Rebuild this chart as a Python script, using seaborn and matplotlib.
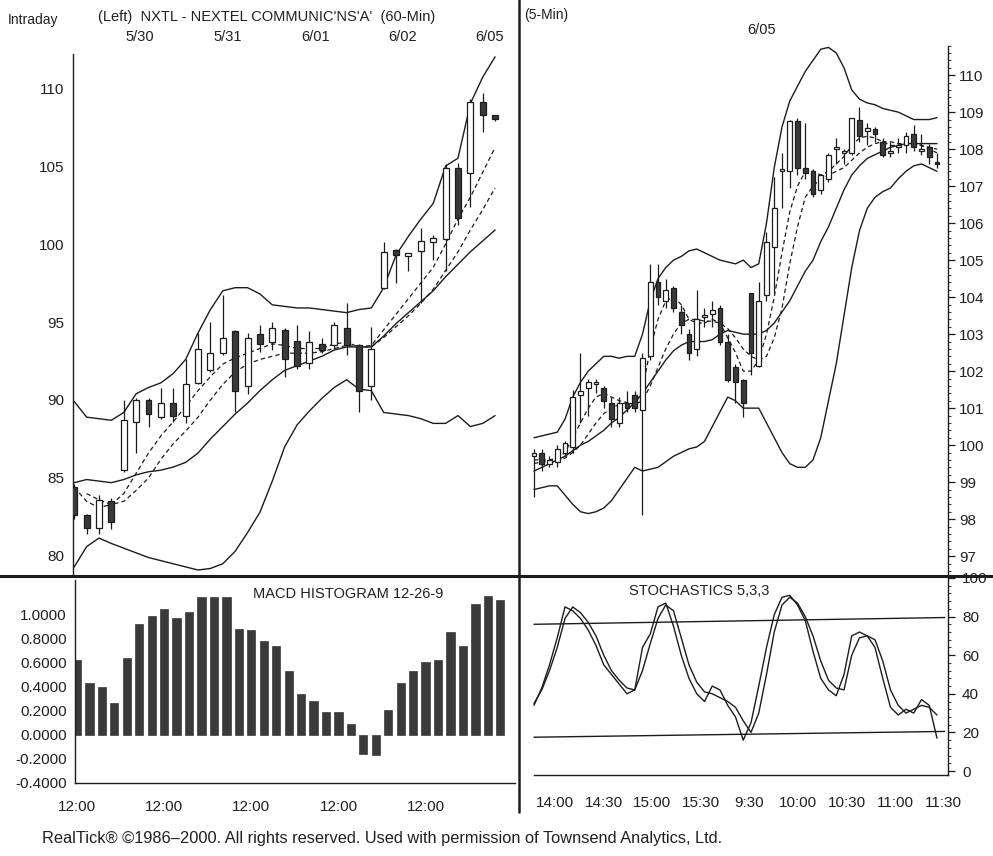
import numpy as np
import pandas as pd
import matplotlib
matplotlib.use("Agg")
import matplotlib.pyplot as plt
import seaborn as sns
from matplotlib.ticker import MultipleLocator, FixedLocator
from matplotlib.lines import Line2D

# ---------------- data ----------------
# Left panel: NXTL 60-min candles (5/30 - 6/05)
l_open  = [84.4, 82.6, 81.8, 83.5, 85.5, 88.6, 90.0, 88.9, 89.8, 89.0, 91.1, 91.9, 93.0, 94.4, 90.9, 94.2, 93.7, 94.5,
           93.8, 92.4, 93.6, 93.5, 94.6, 93.5, 90.9, 97.2, 99.6, 99.2, 99.55, 100.1, 100.3, 104.9, 104.55, 109.1, 108.3]
l_high  = [84.6, 82.7, 83.9, 83.7, 90.0, 90.1, 90.1, 90.8, 90.8, 92.6, 94.3, 95.0, 96.7, 94.5, 94.3, 94.8, 95.0, 94.6,
           94.8, 94.4, 94.0, 95.0, 96.2, 93.6, 94.7, 100.1, 99.7, 99.4, 101.0, 100.6, 105.1, 105.2, 109.3, 109.7, 108.3]
l_low   = [82.4, 81.4, 81.4, 81.7, 85.4, 86.6, 88.3, 88.8, 88.6, 88.5, 91.0, 91.8, 92.9, 89.2, 90.4, 93.1, 93.2, 91.5,
           92.0, 92.0, 93.0, 93.3, 92.9, 89.2, 90.0, 97.1, 97.5, 98.3, 96.2, 99.0, 98.3, 101.2, 102.4, 107.2, 107.9]
l_close = [82.6, 81.8, 83.6, 82.2, 88.7, 90.0, 89.1, 89.8, 89.0, 91.0, 93.3, 93.0, 94.0, 90.6, 94.0, 93.6, 94.6, 92.6,
           92.2, 93.7, 93.2, 94.8, 93.5, 90.6, 93.3, 99.5, 99.3, 99.4, 100.2, 100.4, 104.9, 101.7, 109.1, 108.3, 108.0]
l_upper = [89.9, 88.9, 88.8, 88.7, 89.2, 90.4, 90.8, 91.1, 91.7, 92.6, 94.3, 95.8, 97.0, 97.2, 97.2, 96.8, 96.1, 96.0,
           95.9, 95.9, 95.8, 95.7, 95.6, 95.8, 95.9, 97.2, 99.3, 100.5, 101.6, 102.6, 105.0, 105.5, 109.0, 110.7, 112.0]
l_mid   = [84.7, 84.9, 84.8, 84.7, 84.9, 85.2, 85.4, 85.5, 85.7, 86.0, 86.6, 87.5, 88.3, 89.1, 89.8, 90.6, 91.3, 91.9,
           92.2, 92.5, 92.8, 93.2, 93.4, 93.4, 93.4, 94.1, 94.9, 95.6, 96.3, 97.0, 97.9, 98.7, 99.5, 100.2, 100.9]
l_lower = [79.3, 80.6, 81.15, 80.8, 80.5, 80.2, 79.9, 79.7, 79.5, 79.3, 79.1, 79.2, 79.5, 80.3, 81.5, 82.8, 84.8, 87.0,
           88.4, 89.3, 90.1, 90.8, 91.3, 90.7, 90.6, 89.2, 89.1, 89.0, 88.8, 88.5, 88.5, 89.0, 88.3, 88.5, 89.0]
l_ma_fast = [84.4, 83.5, 83.1, 83.3, 84.0, 85.3, 86.6, 87.7, 88.6, 89.6, 90.6, 91.5, 92.3, 92.7, 93.0, 93.3, 93.6, 93.5,
             93.3, 93.3, 93.3, 93.6, 93.7, 93.4, 93.5, 94.5, 95.5, 96.5, 97.5, 98.5, 100.0, 101.6, 103.0, 104.6, 106.2]
l_ma_slow = [np.nan, 84.0, 83.6, 83.3, 83.5, 84.2, 85.0, 86.2, 87.2, 88.0, 88.9, 90.0, 91.0, 91.8, 92.3, 92.6, 92.8,
             93.0, 93.0, 93.0, 93.1, 93.3, 93.5, 93.4, 93.4, 94.0, 94.7, 95.4, 96.2, 97.1, 98.3, 99.5, 100.9, 102.2, 103.6]
macd_hist = [0.62, 0.43, 0.40, 0.27, 0.64, 0.92, 0.99, 1.05, 0.97, 1.02, 1.15, 1.15, 1.15, 0.88, 0.87, 0.78, 0.74, 0.53,
             0.34, 0.28, 0.19, 0.19, 0.09, -0.16, -0.17, 0.21, 0.43, 0.53, 0.61, 0.62, 0.86, 0.74, 1.09, 1.16, 1.12]
left_day_labels = ["5/30", "5/31", "6/01", "6/02", "6/05"]
macd_tick_labels = ["12:00", "12:00", "12:00", "12:00", "12:00"]

# Right panel: 5-min candles (6/02 afternoon - 6/05 morning)
r_open  = [99.7, 99.8, 99.5, 99.55, 99.8, 99.95, 101.35, 101.55, 101.65, 101.55, 101.15, 100.6, 101.15, 101.35, 100.95,
           102.4, 104.4, 103.9, 104.25, 103.6, 103.0, 102.6, 103.45, 103.55, 103.7, 102.8, 102.1, 101.75, 104.1, 102.15,
           104.05, 105.35, 107.4, 107.4, 108.75, 107.5, 107.4, 106.9, 107.2, 108.0, 107.9, 107.9, 108.8, 108.5, 108.55,
           108.2, 107.9, 108.05, 108.1, 108.4, 107.95, 108.05, 107.65]
r_high  = [99.9, 99.9, 99.7, 100.0, 100.1, 101.5, 102.5, 101.8, 101.8, 101.6, 101.3, 101.3, 101.45, 101.45, 102.5,
           104.9, 104.9, 104.5, 104.3, 103.8, 103.15, 104.2, 103.7, 103.9, 103.8, 103.0, 102.2, 101.8, 104.1, 104.4,
           105.75, 107.25, 107.9, 108.8, 108.85, 108.7, 107.45, 107.3, 107.9, 108.3, 108.0, 108.85, 109.15, 108.7, 108.6,
           108.3, 108.2, 108.3, 108.45, 108.65, 108.4, 108.15, 107.9]
r_low   = [98.6, 99.3, 99.4, 99.4, 99.7, 99.8, 100.6, 100.8, 101.4, 101.0, 100.5, 100.5, 100.9, 100.9, 98.1,
           102.3, 103.8, 103.7, 103.6, 103.0, 102.3, 102.4, 103.2, 103.2, 102.7, 101.7, 101.15, 100.75, 101.9, 102.1,
           103.9, 104.1, 106.4, 106.95, 107.3, 107.2, 106.7, 106.8, 107.1, 107.6, 107.6, 107.85, 108.2, 108.1, 108.2,
           107.8, 107.8, 107.9, 107.9, 107.95, 107.85, 107.6, 107.5]
r_close = [99.8, 99.5, 99.6, 99.9, 100.05, 101.3, 101.45, 101.7, 101.7, 101.2, 100.7, 101.15, 101.0, 101.0, 102.35,
           104.4, 104.0, 104.2, 103.7, 103.25, 102.5, 103.4, 103.5, 103.65, 102.8, 101.75, 101.7, 101.15, 102.5, 103.9,
           105.5, 106.4, 107.45, 108.75, 107.5, 107.35, 106.8, 107.3, 107.85, 108.05, 107.95, 108.85, 108.35, 108.55,
           108.4, 107.85, 107.95, 108.1, 108.35, 108.05, 108.0, 107.8, 107.6]
r_upper = [100.2, 100.25, 100.3, 100.35, 100.7, 101.3, 101.7, 102.0, 102.2, 102.4, 102.4, 102.35, 102.4, 102.4, 103.0,
           103.9, 104.5, 104.8, 105.0, 105.1, 105.25, 105.3, 105.2, 105.1, 105.0, 104.95, 104.9, 105.0, 104.8, 104.9,
           106.0, 107.5, 108.6, 109.3, 109.7, 110.1, 110.4, 110.7, 110.75, 110.6, 110.2, 109.6, 109.35, 109.25, 109.2,
           109.1, 109.05, 109.0, 108.9, 108.8, 108.8, 108.8, 108.85]
r_mid   = [99.3, 99.4, 99.5, 99.6, 99.7, 99.85, 100.0, 100.1, 100.25, 100.4, 100.6, 100.75, 100.95, 101.15, 101.4,
           101.7, 102.0, 102.3, 102.55, 102.7, 102.8, 102.8, 102.8, 102.85, 103.0, 103.1, 103.05, 103.0, 103.0, 103.0,
           103.1, 103.3, 103.6, 103.9, 104.3, 104.7, 105.0, 105.5, 105.9, 106.4, 106.9, 107.3, 107.55, 107.75, 107.85,
           107.95, 108.05, 108.1, 108.15, 108.15, 108.15, 108.15, 108.15]
r_lower = [98.8, 98.85, 98.9, 98.9, 98.65, 98.4, 98.2, 98.15, 98.2, 98.3, 98.5, 98.8, 99.1, 99.4, 99.3,
           99.35, 99.4, 99.55, 99.7, 99.8, 99.9, 99.95, 100.1, 100.5, 100.9, 101.3, 101.2, 101.0, 101.0, 101.0,
           100.6, 100.2, 99.8, 99.5, 99.4, 99.4, 99.6, 100.2, 101.2, 102.2, 103.5, 104.8, 105.8, 106.4, 106.7,
           106.85, 106.95, 107.2, 107.4, 107.55, 107.6, 107.5, 107.4]
r_ma_fast = [99.6, 99.6, 99.6, 99.65, 99.8, 100.2, 100.6, 101.0, 101.3, 101.4, 101.3, 101.2, 101.15, 101.1, 101.5,
             102.6, 103.4, 103.9, 104.0, 103.8, 103.4, 103.3, 103.3, 103.4, 103.3, 102.9, 102.5, 102.0, 102.0, 102.3,
             103.0, 104.0, 105.2, 106.3, 107.0, 107.4, 107.4, 107.3, 107.4, 107.6, 107.8, 108.1, 108.3, 108.35, 108.3,
             108.2, 108.1, 108.1, 108.15, 108.15, 108.1, 108.0, 107.9]
r_ma_slow = [99.5, 99.55, 99.55, 99.6, 99.65, 99.8, 100.0, 100.3, 100.6, 100.85, 101.0, 101.1, 101.15, 101.1, 101.2,
             101.6, 102.1, 102.6, 103.0, 103.3, 103.4, 103.4, 103.35, 103.35, 103.3, 103.15, 102.9, 102.6, 102.4, 102.3,
             102.4, 102.9, 103.7, 104.9, 105.9, 106.7, 107.0, 107.2, 107.3, 107.4, 107.5, 107.7, 107.9, 108.05, 108.15,
             108.2, 108.2, 108.15, 108.15, 108.15, 108.1, 108.05, 108.0]
stoch_k = [34, 43, 55, 69, 85, 83, 79, 73, 65, 55, 50, 45, 40, 42, 64, 71, 85, 87, 75, 60, 48, 40, 36, 44, 42, 34, 28,
           16, 25, 44, 64, 81, 90, 91, 86, 78, 62, 48, 42, 39, 50, 70, 72, 70, 64, 48, 33, 29, 32, 30, 37, 34, 17]
stoch_d = [35, 42, 52, 64, 79, 85, 82, 77, 70, 60, 52, 47, 43, 42, 52, 66, 79, 86, 83, 69, 55, 46, 41, 40, 38, 36, 33,
           26, 20, 30, 50, 72, 86, 90, 87, 80, 70, 57, 47, 43, 42, 60, 69, 70, 68, 57, 42, 34, 30, 32, 34, 33, 29]
stoch_upper_level = [76, 79.5]
stoch_lower_level = [17.5, 20.5]
stoch_tick_labels = ["14:00", "14:30", "15:00", "15:30", "9:30", "10:00", "10:30", "11:00", "11:30"]

# ---------------- style ----------------
sns.set_style("white")
plt.rcParams["font.family"] = ["Liberation Sans", "DejaVu Sans"]
INK = "#1c1c1c"
FILL = "#3a3a3a"
TXT = "#202020"

W, H = 993, 856
fig = plt.figure(figsize=(W / 100, H / 100), dpi=100)
fig.patch.set_facecolor("white")


def box(l, t, r, b):
    return [l / W, 1 - b / H, (r - l) / W, (b - t) / H]


def candles(ax, o, h, l, c, width, min_h):
    o, h, l, c = map(np.asarray, (o, h, l, c))
    x = np.arange(len(o))
    up = c >= o
    ax.vlines(x, l, h, color=INK, lw=0.9, zorder=3)
    bottoms = np.minimum(o, c)
    heights = np.maximum(np.abs(c - o), min_h)
    ax.bar(x[up], heights[up], width, bottom=bottoms[up], facecolor="white",
           edgecolor=INK, lw=0.9, zorder=4)
    ax.bar(x[~up], heights[~up], width, bottom=bottoms[~up], facecolor=FILL,
           edgecolor=INK, lw=0.9, zorder=4)


def line(ax, y, dashed=False, lw=1.0):
    df = pd.DataFrame({"x": np.arange(len(y)), "y": y}).dropna()
    sns.lineplot(data=df, x="x", y="y", ax=ax, color=INK, lw=lw,
                 linestyle=(0, (3.5, 2.5)) if dashed else "-",
                 estimator=None, sort=False, zorder=2)
    ax.set_xlabel("")
    ax.set_ylabel("")


# ---------------- top-left: 60-min ----------------
ax1 = fig.add_axes(box(73, 40, 519, 575))
line(ax1, l_upper)
line(ax1, l_mid)
line(ax1, l_lower)
line(ax1, l_ma_fast, dashed=True, lw=0.9)
line(ax1, l_ma_slow, dashed=True, lw=0.9)
candles(ax1, l_open, l_high, l_low, l_close, 0.48, 0.15)
ax1.set_xlim(-0.1, 35.93)
ax1.set_ylim(78.78, 113.08)
for s in ["top", "right", "bottom"]:
    ax1.spines[s].set_visible(False)
ax1.spines["left"].set_color(INK)
ax1.spines["left"].set_linewidth(1.0)
ax1.spines["left"].set_bounds(78.78, 112.2)
ax1.set_xticks([])
ax1.yaxis.set_major_locator(FixedLocator([80, 85, 90, 95, 100, 105, 110]))
ax1.yaxis.set_minor_locator(FixedLocator(np.arange(79, 112, 1)))
ax1.tick_params(axis="y", which="major", direction="out", length=5, width=0.9,
                color=INK, labelsize=11, labelcolor=TXT, pad=1)
ax1.tick_params(axis="y", which="minor", direction="out", length=2.5, width=0.7, color=INK)
ax1.set_facecolor("none")

# ---------------- top-right: 5-min ----------------
ax2 = fig.add_axes(box(519, 40, 948, 575))
line(ax2, r_upper)
line(ax2, r_mid)
line(ax2, r_lower)
line(ax2, r_ma_fast, dashed=True, lw=0.9)
line(ax2, r_ma_slow, dashed=True, lw=0.9)
candles(ax2, r_open, r_high, r_low, r_close, 0.62, 0.06)
ax2.set_xlim(-1.935, 53.42)
ax2.set_ylim(96.49, 110.95)
for s in ["top", "left", "bottom"]:
    ax2.spines[s].set_visible(False)
ax2.spines["right"].set_color(INK)
ax2.spines["right"].set_linewidth(1.0)
ax2.spines["right"].set_bounds(96.49, 110.8)
ax2.set_xticks([])
ax2.yaxis.tick_right()
ax2.yaxis.set_major_locator(FixedLocator(np.arange(97, 111, 1)))
ax2.yaxis.set_minor_locator(FixedLocator(np.arange(96.6, 110.8, 0.2)))
ax2.tick_params(axis="y", which="major", direction="out", length=5, width=0.9,
                color=INK, labelsize=11, labelcolor=TXT, pad=3)
ax2.tick_params(axis="y", which="minor", direction="out", length=2, width=0.6, color=INK)
ax2.set_facecolor("none")

# ---------------- bottom-left: MACD histogram ----------------
ax3 = fig.add_axes(box(75, 580, 515, 783))
mdf = pd.DataFrame({"bar": np.arange(len(macd_hist)), "hist": macd_hist})
sns.barplot(data=mdf, x="bar", y="hist", ax=ax3, color=FILL, saturation=1,
            native_scale=True, width=0.66, errorbar=None, edgecolor=FILL, lw=0.5)
ax3.set_xlabel("")
ax3.set_ylabel("")
ax3.set_xlim(-0.16, 35.18)
ax3.set_ylim(-0.4, 1.29)
for s in ["top", "right"]:
    ax3.spines[s].set_visible(False)
for s in ["left", "bottom"]:
    ax3.spines[s].set_color(INK)
    ax3.spines[s].set_linewidth(1.0)
ax3.yaxis.set_major_locator(FixedLocator([-0.4, -0.2, 0.0, 0.2, 0.4, 0.6, 0.8, 1.0]))
ax3.set_yticklabels([f"{v:.4f}" for v in [-0.4, -0.2, 0.0, 0.2, 0.4, 0.6, 0.8, 1.0]])
ax3.xaxis.set_major_locator(FixedLocator([0, 7, 14, 21, 28]))
ax3.set_xticklabels(macd_tick_labels)
ax3.xaxis.set_minor_locator(FixedLocator(np.arange(0, 36, 1)))
ax3.tick_params(axis="y", which="major", direction="out", length=4, width=0.9,
                color=INK, labelsize=11, labelcolor=TXT, pad=2)
ax3.tick_params(axis="x", which="major", direction="out", length=7, width=0.9,
                color=INK, labelsize=11, labelcolor=TXT, pad=5)
ax3.tick_params(axis="x", which="minor", direction="out", length=3.5, width=0.7, color=INK)
ax3.text(0.62, 0.965, "MACD HISTOGRAM 12-26-9", transform=ax3.transAxes,
         ha="center", va="top", fontsize=10.5, color=TXT)
ax3.set_facecolor("none")

# ---------------- bottom-right: Stochastics ----------------
ax4 = fig.add_axes(box(519, 577, 948, 775))
line(ax4, stoch_k, lw=1.0)
line(ax4, stoch_d, lw=1.0)
sdf = pd.DataFrame({"x": [0.0, 53.0], "up": stoch_upper_level, "lo": stoch_lower_level})
sns.lineplot(data=sdf, x="x", y="up", ax=ax4, color=INK, lw=1.0, estimator=None)
sns.lineplot(data=sdf, x="x", y="lo", ax=ax4, color=INK, lw=1.0, estimator=None)
ax4.set_xlabel("")
ax4.set_ylabel("")
ax4.set_xlim(-1.935, 53.42)
ax4.set_ylim(-2.07, 100.5)
for s in ["top", "left"]:
    ax4.spines[s].set_visible(False)
for s in ["right", "bottom"]:
    ax4.spines[s].set_color(INK)
    ax4.spines[s].set_linewidth(1.0)
ax4.spines["bottom"].set_bounds(0.0, 53.42)
ax4.yaxis.tick_right()
ax4.yaxis.set_major_locator(FixedLocator([0, 20, 40, 60, 80, 100]))
ax4.yaxis.set_minor_locator(MultipleLocator(4))
stoch_major = 2.71 + 6.27 * np.arange(len(stoch_tick_labels))
ax4.xaxis.set_major_locator(FixedLocator(stoch_major))
ax4.set_xticklabels(stoch_tick_labels)
ax4.xaxis.set_minor_locator(FixedLocator(np.arange(stoch_major[0] - 2 * 1.045, 53.4, 1.045)))
ax4.tick_params(axis="y", which="major", direction="out", length=5, width=0.9,
                color=INK, labelsize=11, labelcolor=TXT, pad=5)
ax4.tick_params(axis="y", which="minor", direction="out", length=2, width=0.6, color=INK)
ax4.tick_params(axis="x", which="major", direction="out", length=6, width=0.9,
                color=INK, labelsize=11, labelcolor=TXT, pad=9)
ax4.tick_params(axis="x", which="minor", direction="out", length=3.5, width=0.7, color=INK)
ax4.text(0.42, 0.965, "STOCHASTICS 5,3,3", transform=ax4.transAxes,
         ha="center", va="top", fontsize=10.5, color=TXT)
ax4.set_facecolor("none")

# ---------------- dividers & header text ----------------
fig.add_artist(Line2D([519 / W, 519 / W], [1 - 812 / H, 1.0], color=INK, lw=1.8))
fig.add_artist(Line2D([0, 1], [1 - 576 / H, 1 - 576 / H], color=INK, lw=2.2))


def ftext(x, y, s, ha="left", size=10.5):
    fig.text(x / W, 1 - y / H, s, ha=ha, va="center", fontsize=size, color=TXT)


ftext(8, 20, "Intraday", size=10)
ftext(98, 17, "(Left)  NXTL - NEXTEL COMMUNIC'NS'A'  (60-Min)", size=10.5)
for xp, lab in zip([140, 228, 316, 403, 490], left_day_labels):
    ftext(xp, 37, lab, ha="center", size=10.5)
ftext(524, 15, "(5-Min)", size=10)
ftext(762, 30, "6/05", ha="center", size=10.5)
ftext(42, 838, "RealTick® ©1986–2000. All rights reserved. Used with permission of Townsend Analytics, Ltd.",
      size=11.8)

fig.savefig("out.png", dpi=100, facecolor="white")
